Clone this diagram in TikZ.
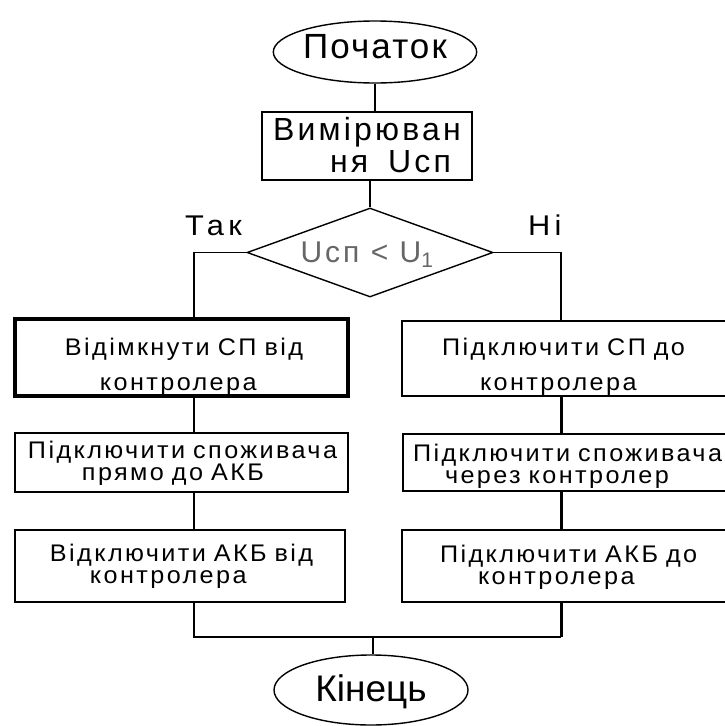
\documentclass[tikz,border=0pt]{standalone}
\usepackage{fontspec}
\setmainfont{Liberation Sans}
\newfontfamily\bxf[LetterSpace=10,FakeStretch=1.05]{Liberation Sans}
\newfontfamily\msf[LetterSpace=10]{Liberation Sans}
\newfontfamily\ttlf[LetterSpace=6]{Liberation Sans}
\newfontfamily\lblf[LetterSpace=15,FakeStretch=1.08]{Liberation Sans}
\usetikzlibrary{shapes.geometric}
\newcommand\hs[1]{\rule{0pt}{#1pt}}
\newcommand\ds[1]{\rule[-#1pt]{0pt}{#1pt}}
\newcommand\bxsetup{\lineskiplimit=-100pt\relax\parindent=0pt\relax}
\newcommand\bxfont{\bxf\fontsize{24}{22}\selectfont\bxsetup}
\newcommand\measfont{\msf\fontsize{32}{32}\selectfont\bxsetup}
\begin{document}
\begin{tikzpicture}[x=1pt,y=-1pt,
  conn/.style={line width=1.5pt},
  connthick/.style={line width=3pt},
  term/.style={ellipse, draw, line width=1.4pt, inner sep=0pt, minimum width=194pt},
  proc/.style={rectangle, draw, line width=1.5pt, inner sep=0pt, align=left},
  bxt/.style={font={\bxfont}},
  dia/.style={diamond, draw, line width=1.4pt, aspect=2.76, inner sep=0pt,
    minimum width=246pt, minimum height=89pt, text=black!60,
    font={\msf\fontsize{30}{36}\selectfont}, text height=22pt, text depth=3pt},
  lbl/.style={font={\lblf\fontsize{28.5}{32}\selectfont}, inner sep=0pt}]
\fill[white] (0,0) rectangle (724,726);
\useasboundingbox (0,0) rectangle (724,726);

\node[term, minimum height=62pt, font={\ttlf\fontsize{35}{40}\selectfont},
  text height=25pt, text depth=13pt] (start) at (375,52) {Початок};

\node[proc, text width=210pt, minimum width=210pt, minimum height=68pt,
  font={\measfont}] (meas) at (367,146)
  {\hs{26}\hspace*{11pt}Вимірюван\\\hspace*{68pt}ня\hspace{20pt}Uсп\ds{6}};

\node[dia] (dec) at (370,252.5) {\hspace*{-6pt}Uсп < U\textsubscript{1}};

\node[lbl, anchor=base west] (yes) at (185,235) {Так};
\node[lbl, anchor=base west] (no) at (528,235) {Ні};

\node[proc, bxt, line width=3.5pt, text width=333pt, minimum width=333pt, minimum height=69pt]
  (L1) at (181.5,357.5)
  {\hs{36}\hspace*{50pt}Відімкнути СП від\\[13pt]\hspace*{85pt}контролера\ds{6}};
\node[proc, bxt, text width=330pt, minimum width=330pt, minimum height=65pt]
  (R1) at (567,358.5)
  {\hs{34}\hspace*{40pt}Підключити СП до\\[13pt]\hspace*{78pt}контролера\ds{6}};

\node[proc, bxt, text width=333pt, minimum width=333pt, minimum height=59pt]
  (L2) at (181.5,462.5)
  {\hs{20}\hspace*{13pt}Підключити споживача\\\hspace*{67pt}прямо до АКБ\ds{7}};
\node[proc, bxt, text width=330pt, minimum width=330pt, minimum height=57pt]
  (R2) at (568,462.5)
  {\hs{26}\hspace*{10pt}Підключити споживача\\\hspace*{42pt}через контролер\ds{6}};

\node[proc, bxt, text width=330pt, minimum width=330pt, minimum height=72pt]
  (L3) at (180,566)
  {\hs{19}\hspace*{35pt}Відключити АКБ від\\\hspace*{75pt}контролера\ds{6}};
\node[proc, bxt, text width=330pt, minimum width=330pt, minimum height=72pt]
  (R3) at (567,566)
  {\hs{21}\hspace*{38pt}Підключити АКБ до\\\hspace*{76pt}контролера\ds{6}};

\node[term, minimum height=70pt, font={\fontsize{37}{42}\selectfont},
  text height=27pt, text depth=5pt] (end) at (371,690) {Кінець};

\coordinate (lx) at (194,0);
\coordinate (rx) at (561,0);
\coordinate (mrg) at (373,637);

\draw[conn] (start.south) -- (start.south |- meas.north);
\draw[conn] (dec.north |- meas.south) -- (dec.north);
\draw[conn] (dec.west) -| (lx |- L1.north);
\draw[conn] (dec.east) -| (rx |- R1.north);
\draw[conn] (lx |- L1.south) -- (lx |- L2.north);
\draw[conn] (lx |- L2.south) -- (lx |- L3.north);
\draw[connthick] (rx |- R1.south) -- (rx |- R2.north);
\draw[connthick] (rx |- R2.south) -- (rx |- R3.north);
\draw[conn] (lx |- L3.south) -- (lx |- mrg) -- (rx |- mrg);
\draw[connthick] (rx |- R3.south) -- (rx |- mrg);
\draw[conn] (mrg) -- (mrg |- end.north);
\end{tikzpicture}
\end{document}
